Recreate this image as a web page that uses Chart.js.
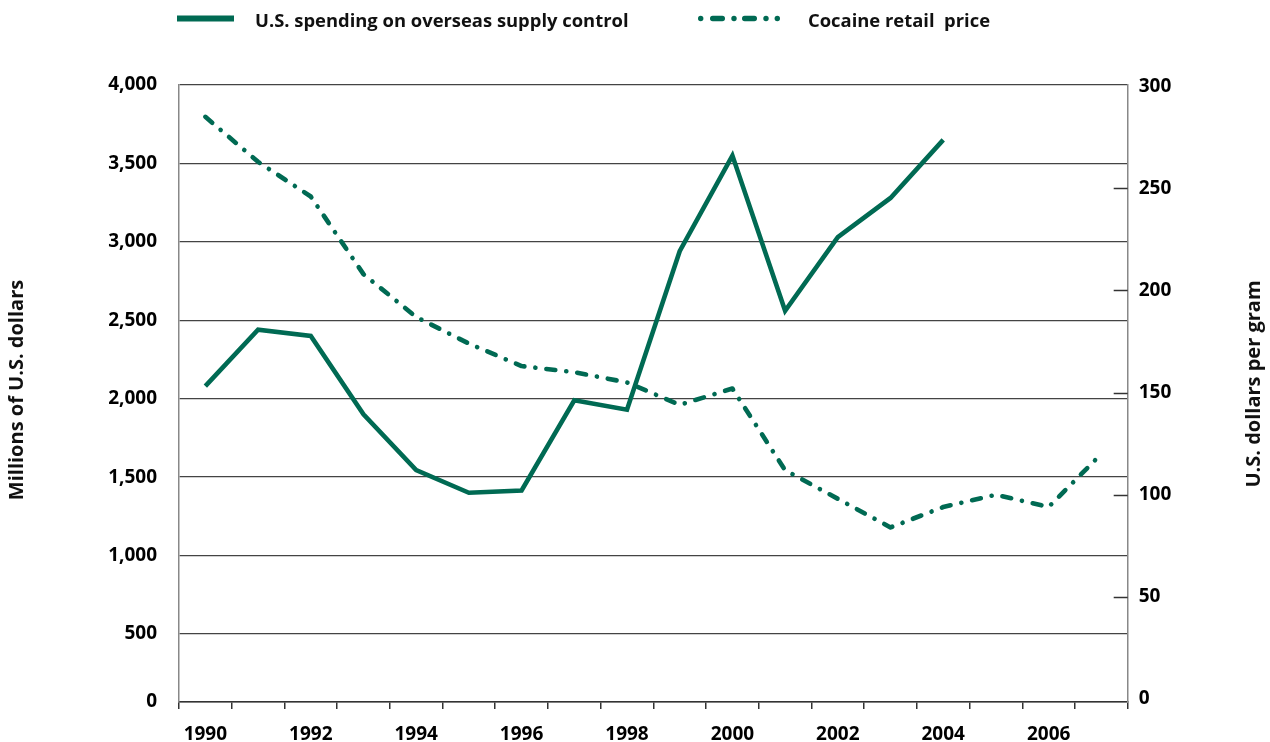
<!DOCTYPE html>
<html>
<head>
<meta charset="utf-8">
<script src="https://cdn.jsdelivr.net/npm/chart.js@4.4.1/dist/chart.umd.min.js"></script>
<style>
html,body{margin:0;padding:0;background:#fff;}
#wrap{width:1270px;height:742px;position:relative;}
</style>
</head>
<body>
<div id="wrap"><canvas id="c" width="1270" height="742"></canvas></div>
<script>
// ---- data ----
const years = ['1990','1991','1992','1993','1994','1995','1996','1997','1998','1999','2000','2001','2002','2003','2004','2005','2006','2007'];
const spending = [2080, 2440, 2400, 1900, 1545, 1400, 1415, 1990, 1930, 2940, 3550, 2560, 3030, 3280, 3650, null, null, null];
const cocainePrice = [285, 263, 246, 208, 187, 174, 163, 160, 155, 144, 152, 112, 98, 84, 94, 100, 94, 120];
const xTickLabels = ['1990','','1992','','1994','','1996','','1998','','2000','','2002','','2004','','2006',''];
const leftTickValues = [0, 500, 1000, 1500, 2000, 2500, 3000, 3500, 4000];
const leftTickLabels = ['0','500','1,000','1,500','2,000','2,500','3,000','3,500','4,000'];
const rightTickValues = [0, 50, 100, 150, 200, 250, 300];
const rightTickLabels = ['0','50','100','150','200','250','300'];
const seriesLabels = ['U.S. spending on overseas supply control', 'Cocaine retail  price'];
const leftTitle = 'Millions of U.S. dollars';
const rightTitle = 'U.S. dollars per gram';

const GREEN = '#006a53';
const FONT = '"Open Sans", "Noto Sans", sans-serif';

const decor = {
  id: 'decor',
  afterDraw(chart) {
    const {ctx, chartArea, scales} = chart;
    const y1 = scales.y1;
    ctx.save();
    // inward tick marks on right axis (not at the ends)
    ctx.strokeStyle = '#333';
    ctx.lineWidth = 1.5;
    y1.ticks.forEach((t, i) => {
      if (i === 0 || i === y1.ticks.length - 1) return;
      const py = Math.round(y1.getPixelForValue(t.value)) + 0.5;
      ctx.beginPath();
      ctx.moveTo(chartArea.right - 14, py);
      ctx.lineTo(chartArea.right, py);
      ctx.stroke();
    });
    // axis titles
    ctx.fillStyle = '#111';
    ctx.font = 'bold 20px ' + FONT;
    ctx.textAlign = 'center';
    ctx.textBaseline = 'middle';
    ctx.save();
    ctx.translate(17, 390);
    ctx.rotate(-Math.PI / 2);
    ctx.fillText(leftTitle, 0, 0);
    ctx.restore();
    ctx.save();
    ctx.translate(chart.width - 16, 384);
    ctx.rotate(-Math.PI / 2);
    ctx.fillText(rightTitle, 0, 0);
    ctx.restore();
    // legend
    const ds = chart.data.datasets;
    const ly = 18.5;
    ctx.strokeStyle = GREEN;
    ctx.fillStyle = GREEN;
    ctx.lineCap = 'butt';
    ctx.lineWidth = 6;
    ctx.beginPath();
    ctx.moveTo(177, ly); ctx.lineTo(234, ly);
    ctx.stroke();
    // dash-dot sample
    const sx = 698;
    const dots = [2.7, 36, 68, 79.3];
    const dashes = [[12, 27], [44, 59]];
    dots.forEach(d => { ctx.beginPath(); ctx.arc(sx + d, ly, 2.7, 0, Math.PI * 2); ctx.fill(); });
    ctx.lineCap = 'round';
    ctx.lineWidth = 5.4;
    dashes.forEach(([a, b]) => { ctx.beginPath(); ctx.moveTo(sx + a + 2.7, ly); ctx.lineTo(sx + b - 2.7, ly); ctx.stroke(); });
    ctx.fillStyle = '#111';
    ctx.font = 'bold 18.4px ' + FONT;
    ctx.textAlign = 'left';
    ctx.textBaseline = 'alphabetic';
    ctx.fillText(ds[0].label, 255, 27);
    ctx.fillText(ds[1].label, 808, 27);
    ctx.restore();
  }
};

new Chart(document.getElementById('c'), {
  type: 'line',
  data: {
    labels: years,
    datasets: [
      {
        label: seriesLabels[0],
        data: spending,
        yAxisID: 'y',
        borderColor: GREEN,
        backgroundColor: GREEN,
        borderWidth: 4.6,
        pointRadius: 0,
        tension: 0,
        fill: false,
        borderCapStyle: 'butt',
        borderJoinStyle: 'miter',
        spanGaps: false
      },
      {
        label: seriesLabels[1],
        data: cocainePrice,
        yAxisID: 'y1',
        borderColor: GREEN,
        backgroundColor: GREEN,
        borderWidth: 4.6,
        pointRadius: 0,
        tension: 0,
        fill: false,
        borderDash: [9, 11, 0.1, 11],
        borderCapStyle: 'round',
        borderJoinStyle: 'round'
      }
    ]
  },
  options: {
    responsive: false,
    animation: false,
    devicePixelRatio: 1,
    layout: { padding: { top: 85, left: 0, right: 0, bottom: 0 } },
    plugins: { legend: { display: false }, tooltip: { enabled: false } },
    scales: {
      x: {
        type: 'category',
        offset: true,
        grid: { offset: true, drawOnChartArea: false, drawTicks: true, tickLength: 7, color: '#333', lineWidth: 1.5 },
        border: { display: true, color: '#333', width: 1.5 },
        ticks: {
          autoSkip: false, maxRotation: 0, minRotation: 0, padding: 14,
          color: '#000', font: { family: FONT, size: 19, weight: 'bold' },
          callback: (v, i) => xTickLabels[i]
        },
        afterFit: s => { s.height = 40; }
      },
      y: {
        position: 'left',
        min: 66, max: 4000,
        afterBuildTicks: s => { s.ticks = leftTickValues.map(v => ({ value: Math.max(v, s.min) })); },
        grid: { drawTicks: false, color: '#444', lineWidth: 1.2 },
        border: { display: true, color: '#888', width: 1.5 },
        ticks: {
          padding: 22, color: '#000', font: { family: FONT, size: 19, weight: 'bold' },
          callback: (v, i) => leftTickLabels[i]
        },
        afterFit: s => { s.width = 179; }
      },
      y1: {
        position: 'right',
        min: -1.47, max: 300.6,
        afterBuildTicks: s => { s.ticks = rightTickValues.map(v => ({ value: v })); },
        grid: { drawOnChartArea: false, drawTicks: false },
        border: { display: true, color: '#888', width: 1.5 },
        ticks: {
          padding: 11, color: '#000', font: { family: FONT, size: 19, weight: 'bold' },
          callback: (v, i) => rightTickLabels[i]
        },
        afterFit: s => { s.width = 142.3; }
      }
    }
  },
  plugins: [decor]
});
</script>
</body>
</html>
